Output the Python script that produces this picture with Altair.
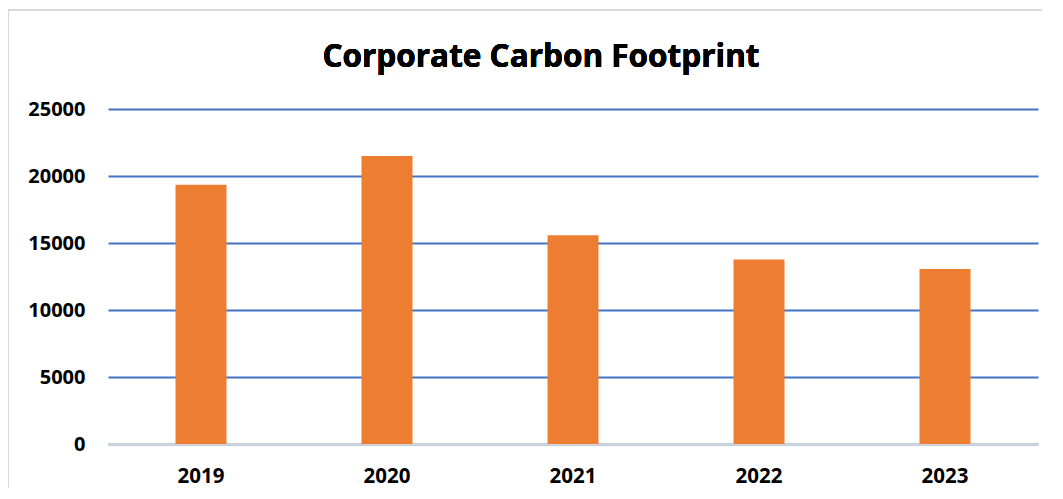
import altair as alt
import pandas as pd

years = ["2019", "2020", "2021", "2022", "2023"]
emissions = [19350, 21500, 15570, 13760, 13060]
y_ticks = [0, 5000, 10000, 15000, 20000, 25000]

df = pd.DataFrame({"year": years, "value": emissions})

FONT = "Open Sans"

bars = alt.Chart(df).mark_bar(color="#ED7D31", size=51).encode(
    x=alt.X("year:N", sort=years,
            scale=alt.Scale(paddingInner=0, paddingOuter=0),
            axis=alt.Axis(title=None, labelAngle=0, labelFont=FONT, labelFontSize=20.5,
                          labelFontWeight="bold", labelColor="#000000", ticks=False,
                          domainColor="#D9D9D9", domainWidth=2, labelPadding=22, grid=False)),
    y=alt.Y("value:Q", scale=alt.Scale(domain=[0, 25000]),
            axis=alt.Axis(title=None, values=y_ticks, format="d", labelFont=FONT, labelFontSize=20,
                          labelFontWeight="bold", labelColor="#000000", ticks=False,
                          domain=False, gridColor="#4472C4", gridWidth=2, labelPadding=23)),
)

frame = alt.Chart(df).mark_rect(fill=None, stroke="#D9D9D9", strokeWidth=2, clip=False).encode(
    x=alt.value(-100), x2=alt.value(960), y=alt.value(-99), y2=alt.value(420)
)

title = alt.Chart(df).mark_text(text="Corporate Carbon Footprint", font=FONT, fontSize=31.5,
                                fontWeight="bold", color="#000000", align="center",
                                baseline="alphabetic").encode(
    x=alt.value(433), y=alt.value(-42)
)

chart = alt.layer(frame, bars, title).properties(
    width=930, height=335,
    autosize=alt.AutoSizeParams(type="none"),
    padding={"left": 100, "top": 101, "right": 4, "bottom": 44},
).configure_view(stroke=None).configure_axisY(gridOpacity=1)

chart.save("out.html", embed_options={"renderer": "svg", "actions": False})
